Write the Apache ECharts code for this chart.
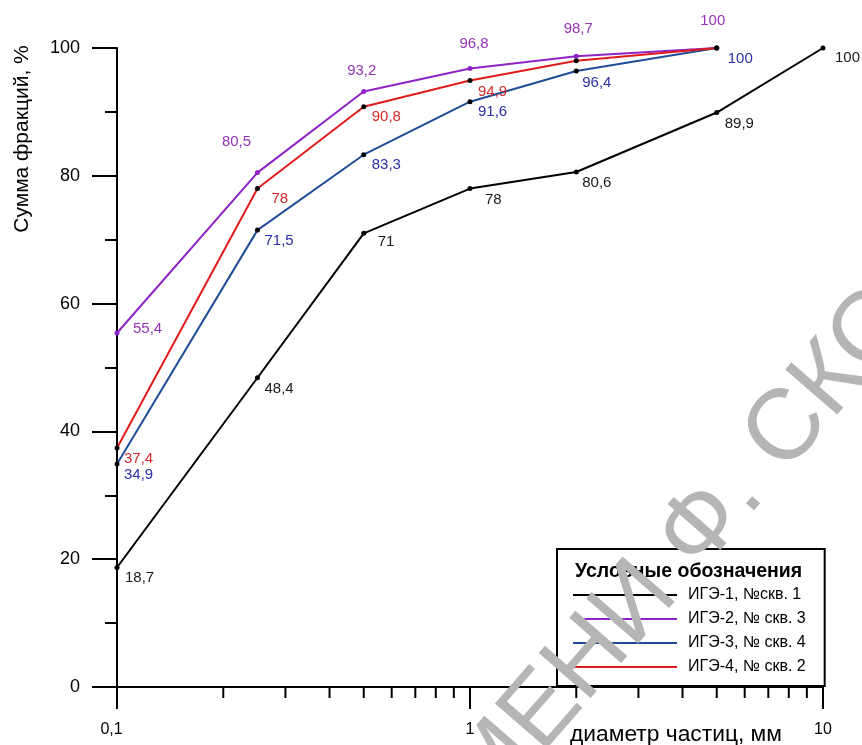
<!DOCTYPE html>
<html>
<head>
<meta charset="utf-8">
<script src="https://cdn.jsdelivr.net/npm/echarts@6/dist/echarts.min.js"></script>
<style>
  html, body { margin: 0; padding: 0; background: #fff; }
  #main { width: 862px; height: 745px; }
</style>
</head>
<body>
<div id="main"></div>
<script>
(function () {
    'use strict';

    // диаметр частиц, мм
    var diam = [0.1, 0.25, 0.5, 1, 2, 5, 10];
    // сумма фракций, %
    var ige1 = [18.7, 48.4, 71, 78, 80.6, 89.9, 100];
    var ige2 = [55.4, 80.5, 93.2, 96.8, 98.7, 100];
    var ige3 = [34.9, 71.5, 83.3, 91.6, 96.4, 100];
    var ige4 = [37.4, 78, 90.8, 94.9, 98, 100];
    var names = ['ИГЭ-1, №скв. 1', 'ИГЭ-2, № скв. 3', 'ИГЭ-3, № скв. 4', 'ИГЭ-4, № скв. 2'];
    var minorTickVals = [0.2, 0.3, 0.4, 0.5, 0.6, 0.7, 0.8, 0.9, 2, 3, 4, 5, 6, 7, 8, 9];

    var font = '"Liberation Sans", Arial, sans-serif';

    // label placement per point: [align, dx, dy], null = no label
    var lab1 = [['left', 8, 10], ['left', 7, 11], ['left', 14, 9], ['left', 15, 11], ['left', 6, 11], ['left', 8, 11], ['left', 12, 10]];
    var lab2 = [['left', 16, -4], ['center', -21, -31], ['center', -2, -21], ['center', 4, -25], ['center', 2, -27], ['center', -4, -27]];
    var lab3 = [['left', 7, 11], ['left', 7, 11], ['left', 8, 10], ['left', 8, 10], ['left', 6, 12], ['left', 11, 11]];
    var lab4 = [['left', 7, 11], ['left', 14, 10], ['left', 8, 10], ['left', 8, 11], null, null];

    function comma(v) {
        return String(+(+v).toPrecision(4)).replace('.', ',');
    }

    function buildData(vals, labs, color) {
        return vals.map(function (v, i) {
            var l = labs[i];
            var item = { value: [diam[i], v] };
            if (l) {
                item.label = {
                    show: true, position: 'inside', align: l[0], verticalAlign: 'middle',
                    offset: [l[1], l[2]], color: color, fontSize: 15, fontFamily: font,
                    formatter: function (p) { return comma(p.value[1]); }
                };
            } else {
                item.label = { show: false };
            }
            return item;
        });
    }

    function lineSeries(name, vals, labs, lineColor, dotColor, labColor) {
        return {
            name: name,
            type: 'line',
            data: buildData(vals, labs, labColor),
            symbol: 'circle',
            symbolSize: 5,
            lineStyle: { color: lineColor, width: 2 },
            itemStyle: { color: dotColor },
            emphasis: { disabled: true },
            animation: false,
            z: 3
        };
    }

    var myChart = echarts.init(document.getElementById('main'));

    var legendIcon = 'path://M0,0H100V2H0Z';

    var option = {
        backgroundColor: '#fff',
        animation: false,
        grid: { left: 117, right: 39, top: 48, bottom: 58 },
        xAxis: {
            type: 'log',
            logBase: 10,
            min: 0.1,
            max: 10,
            axisLine: { lineStyle: { color: '#000', width: 2 } },
            axisTick: { show: true, length: 22, lineStyle: { color: '#000', width: 2 } },
            axisLabel: {
                margin: 35, color: '#000', fontSize: 16, fontFamily: font,
                formatter: function (v) {
                    var s = comma(v);
                    return v < 0.5 ? '{first|' + s + '}' : s;
                },
                rich: {
                    first: { fontSize: 16, fontFamily: font, color: '#000', padding: [0, 11, 0, 0] }
                }
            },
            splitLine: { show: false }
        },
        yAxis: {
            type: 'value',
            min: 0,
            max: 100,
            interval: 20,
            axisLine: { show: true, lineStyle: { color: '#000', width: 2 } },
            axisTick: { show: true, length: 25, lineStyle: { color: '#000', width: 2 } },
            minorTick: { show: true, splitNumber: 2, length: 12, lineStyle: { color: '#000', width: 2 } },
            axisLabel: { margin: 37, color: '#000', fontSize: 18, fontFamily: font },
            splitLine: { show: false }
        },
        legend: {
            orient: 'vertical',
            left: 557,
            top: 549,
            padding: [38, 19, 11, 16],
            borderColor: '#000',
            borderWidth: 2,
            backgroundColor: '#fff',
            itemWidth: 104,
            itemHeight: 14,
            itemGap: 8,
            selectedMode: false,
            textStyle: { color: '#000', fontSize: 16, fontFamily: font, padding: [0, 0, 0, 6] },
            data: [
                { name: names[0], icon: legendIcon, itemStyle: { color: '#000' } },
                { name: names[1], icon: legendIcon, itemStyle: { color: '#8e24c8' } },
                { name: names[2], icon: legendIcon, itemStyle: { color: '#1f4e96' } },
                { name: names[3], icon: legendIcon, itemStyle: { color: '#e01b1b' } }
            ]
        },
        graphic: [
            {
                type: 'text', x: 575, y: 572, z: 10,
                style: { text: 'Условные обозначения', font: 'bold 19.5px ' + font, fill: '#000', verticalAlign: 'middle' }
            },
            {
                type: 'text', x: 570, y: 735, z: 10,
                style: { text: 'диаметр частиц, мм', font: '22.8px ' + font, fill: '#000', verticalAlign: 'middle' }
            },
            {
                type: 'text', x: 22, y: 139, rotation: Math.PI / 2, z: 10,
                style: { text: 'Сумма фракций, %', font: '21px ' + font, fill: '#000', align: 'center', verticalAlign: 'middle' }
            },
            {
                type: 'text', x: 777, y: 518, rotation: 49 * Math.PI / 180, z: 100, silent: true,
                style: { text: 'ЗАМЕНИ Ф. СКОРИНЫ', font: '100px ' + font, fill: '#b5b5b5', align: 'center', verticalAlign: 'bottom' }
            }
        ],
        series: [
            lineSeries(names[0], ige1, lab1, '#000', '#000', '#1a1a1a'),
            lineSeries(names[1], ige2, lab2, '#8e24c8', '#8e24c8', '#9434b8'),
            lineSeries(names[2], ige3, lab3, '#1f4e96', '#000', '#2b2fa8'),
            lineSeries(names[3], ige4, lab4, '#e01b1b', '#000', '#d42a2a'),
            {
                type: 'custom',
                silent: true,
                clip: false,
                animation: false,
                data: minorTickVals.map(function (v) { return [v, 0]; }),
                renderItem: function (params, api) {
                    var p = api.coord([api.value(0), api.value(1)]);
                    return {
                        type: 'line',
                        shape: { x1: p[0], y1: p[1], x2: p[0], y2: p[1] + 11 },
                        style: { stroke: '#000', lineWidth: 2 }
                    };
                }
            }
        ]
    };

    myChart.setOption(option, true);
}());
</script>
</body>
</html>
